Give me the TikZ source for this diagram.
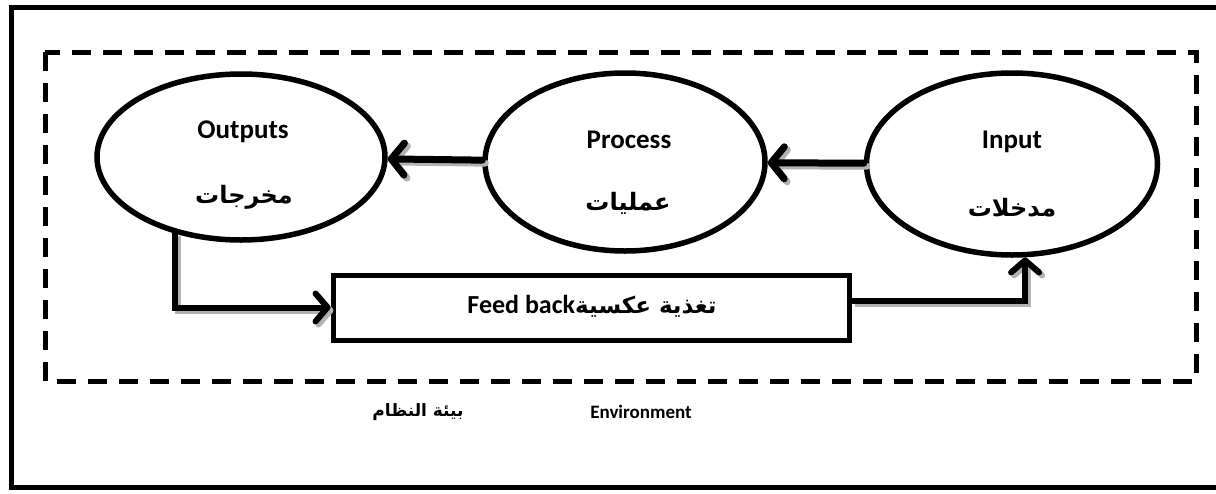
\documentclass[tikz,border=0pt]{standalone}
\usepackage{fontspec}
\setmainfont{Carlito}
\newfontfamily\arabicfont[Script=Arabic]{DejaVu Sans}
\TeXXeTstate=1
\usetikzlibrary{shapes.geometric,arrows.meta}
\tikzset{
  frame/.style={line width=5pt},
  envbox/.style={line width=5pt, dash pattern=on 19pt off 12pt},
  bubble/.style={draw, ellipse, line width=5.5pt, inner sep=0pt},
  fbbox/.style={draw, rectangle, line width=5pt, inner sep=0pt},
  entxt/.style={font=\bfseries\fontsize{27}{30}\selectfont, inner sep=0pt},
  artxt/.style={font=\arabicfont\bfseries\fontsize{24}{28}\selectfont, inner sep=0pt},
  flowtip/.style={-{Straight Barb[length=13pt, width=32pt, round]}},
  flow/.style={line width=7pt, line cap=round, line join=round, flowtip},
  linktip/.style={-{Straight Barb[length=12pt, width=28pt, round]}},
  link/.style={line width=6pt, line join=miter, linktip},
  shade/.style={draw=black!30, transform canvas={shift={(3pt,-3pt)}}}
}
\begin{document}
\begin{tikzpicture}[x=1pt, y=-1pt]
\useasboundingbox (0,0) rectangle (1216,493);
\fill[white] (0,0) rectangle (1216,493);

% outer page frame, open to the right
\draw[frame] (1220,7) -- (11,7) -- (11,487) -- (1220,487);

% system environment boundary
\draw[envbox] (45,52) rectangle (1196,381);

% the three stages
\node[bubble, minimum width=288pt, minimum height=166pt] (out) at (241,157) {};
\node[bubble, minimum width=280pt, minimum height=178pt] (proc) at (625,162) {};
\node[bubble, minimum width=291pt, minimum height=182pt] (in) at (1012,164) {};

\node[entxt] (outen) at (243,132) {Outputs};
\node[artxt] (outar) at (244,197) {\beginR مخرجات\endR};
\node[entxt] (procen) at (629,140) {Process};
\node[artxt] (procar) at (628,203) {\beginR عمليات\endR};
\node[entxt] (inen) at (1012,142) {Input};
\node[artxt] (inar) at (1012,208) {\beginR مدخلات\endR};

% feedback block
\node[fbbox, minimum width=516pt, minimum height=65pt] (fb) at (591,307.5) {};
\node[font=\bfseries\fontsize{26}{28}\selectfont, inner sep=0pt] (fbtxt) at (592,306)
  {Feed back{\arabicfont\fontsize{23}{28}\selectfont\beginR تغذية عكسية\endR}};

% soft shadows under the connectors
\draw[flow, shade] (in) -- (proc);
\draw[flow, shade] (proc) -- (out);
\draw[link, shade] (out.229) |- (fb.west);
\draw[link, shade] ([yshift=7pt]fb.east) -| (in.278);

% flow between stages
\draw[flow] (in) -- (proc);
\draw[flow] (proc) -- (out);

% feedback loop
\draw[link] (out.229) |- (fb.west);
\draw[link] ([yshift=7pt]fb.east) -| (in.278);

% environment caption
\node[font=\bfseries\fontsize{19}{22}\selectfont, inner sep=0pt] (envEn) at (641,412) {Environment};
\node[font=\arabicfont\bfseries\fontsize{17}{22}\selectfont, inner sep=0pt] (envAr) at (418,412) {\beginR بيئة النظام\endR};
\end{tikzpicture}
\end{document}
